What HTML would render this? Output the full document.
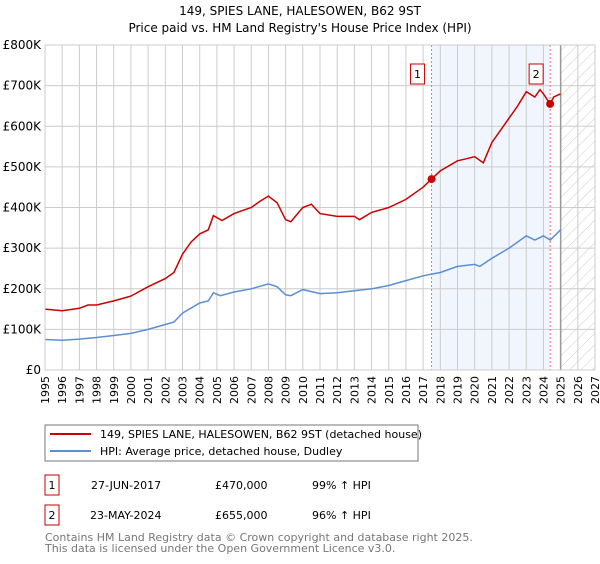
<!DOCTYPE html>
<html><head><meta charset="utf-8"><style>
body{margin:0;background:#fff;font-family:"DejaVu Sans","Liberation Sans",sans-serif;}
svg text{font-family:"DejaVu Sans","Liberation Sans",sans-serif;}
</style></head><body>
<svg id="chart" width="600" height="560" xmlns="http://www.w3.org/2000/svg">
<defs><pattern id="hatch" width="8" height="8" patternUnits="userSpaceOnUse" patternTransform="rotate(45)"><line x1="0" y1="0" x2="0" y2="8" stroke="#ccc" stroke-width="1"/></pattern></defs>
<text x="300" y="15" text-anchor="middle" font-size="12">149, SPIES LANE, HALESOWEN, B62 9ST</text>
<text x="300" y="32" text-anchor="middle" font-size="12">Price paid vs. HM Land Registry's House Price Index (HPI)</text>
<g id="plot"></g>
<rect x="45" y="425" width="373" height="36" fill="#fff" stroke="#777"/>
<line x1="50" y1="434" x2="91" y2="434" stroke="#cc0000" stroke-width="2"/>
<text x="100" y="438" font-size="11">149, SPIES LANE, HALESOWEN, B62 9ST (detached house)</text>
<line x1="50" y1="451" x2="91" y2="451" stroke="#5b8fd4" stroke-width="2"/>
<text x="100" y="455" font-size="11">HPI: Average price, detached house, Dudley</text>
<rect x="45" y="475" width="14" height="20" fill="#fff" stroke="#cc0000"/>
<text x="52" y="489" font-size="11" text-anchor="middle">1</text>
<text x="91" y="489" font-size="11">27-JUN-2017</text>
<text x="215" y="489" font-size="11">£470,000</text>
<text x="312" y="489" font-size="11">99% ↑ HPI</text>
<rect x="45" y="505" width="14" height="20" fill="#fff" stroke="#cc0000"/>
<text x="52" y="519" font-size="11" text-anchor="middle">2</text>
<text x="90" y="519" font-size="11">23-MAY-2024</text>
<text x="215" y="519" font-size="11">£655,000</text>
<text x="312" y="519" font-size="11">96% ↑ HPI</text>
<text x="45" y="541" font-size="11" fill="#777">Contains HM Land Registry data © Crown copyright and database right 2025.</text>
<text x="45" y="552" font-size="11" fill="#777">This data is licensed under the Open Government Licence v3.0.</text>
</svg>
<script>
const yTicks=[0,100,200,300,400,500,600,700,800];
const yTickLabels=["£0","£100K","£200K","£300K","£400K","£500K","£600K","£700K","£800K"];
const xYears=[1995,1996,1997,1998,1999,2000,2001,2002,2003,2004,2005,2006,2007,2008,2009,2010,2011,2012,2013,2014,2015,2016,2017,2018,2019,2020,2021,2022,2023,2024,2025,2026,2027];
const redT=[1995,1996,1997,1997.5,1998,1999,2000,2001,2002,2002.5,2003,2003.5,2004,2004.5,2004.8,2005.3,2006,2007,2007.5,2008,2008.5,2009,2009.3,2010,2010.5,2011,2012,2013,2013.3,2014,2015,2016,2017,2017.49,2018,2019,2019.5,2020,2020.5,2021,2022,2022.5,2023,2023.5,2023.8,2024,2024.39,2024.6,2025];
const redV=[150,146,152,160,160,170,182,205,225,240,285,315,335,345,380,368,385,400,415,428,412,370,365,400,408,385,378,378,370,388,400,420,450,470,490,515,520,525,510,560,620,650,685,672,690,680,655,672,680];
const blueT=[1995,1996,1997,1998,1999,2000,2001,2002,2002.5,2003,2004,2004.5,2004.8,2005.2,2006,2007,2008,2008.5,2009,2009.3,2010,2011,2012,2013,2014,2015,2016,2017,2018,2019,2020,2020.3,2021,2022,2023,2023.5,2024,2024.4,2025];
const blueV=[75,73,76,80,85,90,100,112,118,140,165,170,190,183,192,200,212,205,185,183,198,188,190,195,200,208,220,232,240,255,260,255,275,300,330,320,330,320,345];
const sales=[{t:2017.49,v:470,n:"1"},{t:2024.39,v:655,n:"2"}];
const L=45,R=595,T=45,B=370;
const xS=t=>L+(t-1995)/(2027-1995)*(R-L);
const yS=v=>B-v/800*(B-T);
const g=document.getElementById('plot');
const NS="http://www.w3.org/2000/svg";
function mk(tag,a){const e=document.createElementNS(NS,tag);for(const k in a)e.setAttribute(k,a[k]);g.appendChild(e);return e;}
let e=mk('rect',{x:xS(sales[0].t),y:T,width:xS(sales[1].t)-xS(sales[0].t),height:B-T,fill:'#eef3fc',opacity:0.8});


e=mk('rect',{x:xS(2025),y:T,width:R-xS(2025),height:B-T,fill:'url(#hatch)'});


xYears.forEach(y=>{const x=xS(y);
 e=mk('line',{x1:x,y1:T,x2:x,y2:B,stroke:'#ccc','stroke-width':1});
 
 
 e=mk('text',{x:0,y:0,'font-size':11,'text-anchor':'end',transform:`translate(${x+4},${B+6}) rotate(-90)`});
 e.textContent=y;
 
 
});
yTicks.forEach((v,i)=>{const y=yS(v);
 e=mk('line',{x1:L,y1:y,x2:R,y2:y,stroke:'#ccc','stroke-width':1});
 
 
 e=mk('text',{x:L-4,y:y+4,'font-size':12,'text-anchor':'end'});
 e.textContent=yTickLabels[i];
 
 
});
e=mk('line',{x1:xS(2025),y1:T,x2:xS(2025),y2:B,stroke:'#999','stroke-width':1.5});


sales.forEach(s=>{const x=xS(s.t);
 e=mk('line',{x1:x,y1:T,x2:x,y2:B,stroke:'#f07070','stroke-dasharray':'2,2','stroke-width':1});
 
 
});
const path=(ts,vs)=>ts.map((t,i)=>(i?'L':'M')+xS(t).toFixed(1)+','+yS(vs[i]).toFixed(1)).join(' ');
e=mk('path',{d:path(blueT,blueV),fill:'none',stroke:'#5b8fd4','stroke-width':1.5});


e=mk('path',{d:path(redT,redV),fill:'none',stroke:'#cc0000','stroke-width':1.5});


sales.forEach(s=>{const x=xS(s.t);
 e=mk('circle',{cx:x,cy:yS(s.v),r:4,fill:'#cc0000'});
 
 
 e=mk('rect',{x:x-21,y:64,width:14,height:20,fill:'#fff',stroke:'#cc0000'});
 
 
 e=mk('text',{x:x-14,y:78,'font-size':11,'text-anchor':'middle'});
 e.textContent=s.n;
 
 
});
e=mk('rect',{x:L,y:T,width:R-L,height:B-T,fill:'none',stroke:'#ccc'});


</script>
</body></html>
